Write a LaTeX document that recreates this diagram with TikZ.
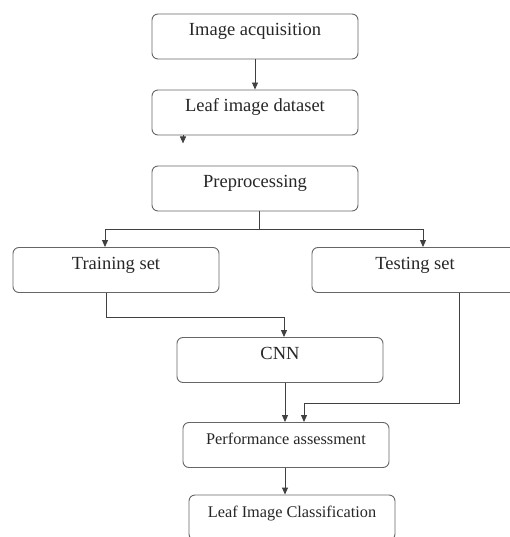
\documentclass[tikz,border=0pt]{standalone}
\usepackage{fontspec}
\setmainfont{Liberation Serif}
\usetikzlibrary{arrows.meta}

\tikzset{
    stage/.style={draw=black!60, line width=0.9pt, rounded corners=6pt, minimum width=206pt, inner sep=0pt, text height=22pt, text depth=23pt, font=\fontsize{18.5}{20}\selectfont, text=black!85},
    smallstage/.style={stage, font=\fontsize{16.3}{18}\selectfont},
    flow/.style={draw=black!75, line width=0.9pt, -{Triangle[length=7pt,width=6pt]}}
}

\begin{document}
\begin{tikzpicture}[x=1pt,y=-1pt]
        \useasboundingbox (0,0) rectangle (510,537);
        \clip (0,0) rectangle (510,537);

        \node[stage] (acq) at (255,36.5) {Image acquisition};
        \node[stage] (data) at (255,112.5) {Leaf image dataset};
        \node[stage] (prep) at (255,188.5) {Preprocessing};
        \node[stage] (train) at (116,270) {Training set};
        \node[stage] (test) at (415,270) {Testing set};
        \node[stage] (cnn) at (280,360) {CNN};
        \node[smallstage] (perf) at (286,445) {Performance assessment};
        \node[smallstage] (cls) at (292,517.5) {Leaf Image Classification};

        \draw[flow] (acq) -- (data);
        \draw[flow] ([xshift=-72pt]data.south) -- ++(0,8);

        \draw[flow] ([xshift=4pt]prep.south) -- ++(0,18) -| ([xshift=-11pt]train.north);
        \draw[flow] ([xshift=4pt]prep.south) -- ++(0,18) -| ([xshift=8pt]test.north);

        \draw[flow] ([xshift=-10pt]train.south) -- ++(0,24) -| ([xshift=4pt]cnn.north);
        \draw[flow] ([xshift=44pt]test.south) -- ++(0,110) -| ([xshift=18pt]perf.north);
        \draw[flow] ([xshift=5pt]cnn.south) -- ([xshift=5pt]cnn.south |- perf.north);

        \draw[flow] ([xshift=-1pt]perf.south) -- ([xshift=-1pt]perf.south |- cls.north);
    \end{tikzpicture}
\end{document}
